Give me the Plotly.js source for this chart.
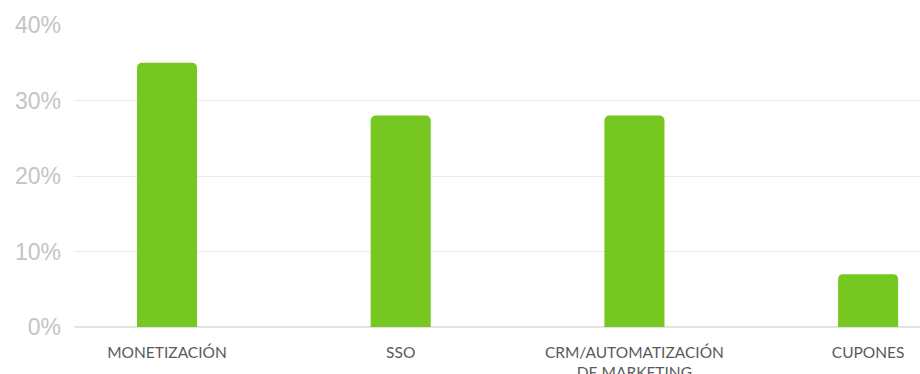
<!DOCTYPE html>
<html><head><meta charset="utf-8">
<script src="https://cdn.plot.ly/plotly-3.0.1.min.js"></script>
<style>html,body{margin:0;padding:0;background:#fff}#c{width:920px;height:374px}</style>
</head><body><div id="c"></div>
<script>
const categories = ["MONETIZACIÓN", "SSO", "CRM/AUTOMATIZACIÓN<br>DE MARKETING", "CUPONES"];
const values = [35, 28, 28, 7];
const yTicks = [0, 10, 20, 30, 40];
const yTickLabels = ["0%", "10%", "20%", "30%", "40%"];

Plotly.newPlot('c', [{
  type: 'bar',
  x: [0, 1, 2, 3],
  y: values,
  width: 0.257,
  marker: {color: '#76c820', cornerradius: 5},
  hoverinfo: 'skip'
}], {
  width: 920, height: 374,
  margin: {l: 74, r: 0, t: 25, b: 47},
  paper_bgcolor: '#fff', plot_bgcolor: '#fff',
  showlegend: false,
  xaxis: {
    range: [-0.398, 3.222],
    tickvals: [0, 1, 2, 3],
    ticktext: categories,
    tickfont: {family: 'Lato, "Open Sans", sans-serif', size: 15.5, color: '#5a5a5a'},
    showgrid: false, zeroline: false, showline: false, ticks: '',
    ticklabelstandoff: 14
  },
  yaxis: {
    range: [0, 40],
    tickvals: yTicks,
    ticktext: yTickLabels,
    tickfont: {family: '"Liberation Sans Narrow", sans-serif', size: 23, color: '#c4c4c4'},
    showgrid: true, gridcolor: '#ebebeb', gridwidth: 1,
    zeroline: true, zerolinecolor: '#e3e3e3', zerolinewidth: 2,
    showline: false, ticks: '',
    ticklabelstandoff: 12
  }
}, {displayModeBar: false, staticPlot: true});
</script></body></html>
